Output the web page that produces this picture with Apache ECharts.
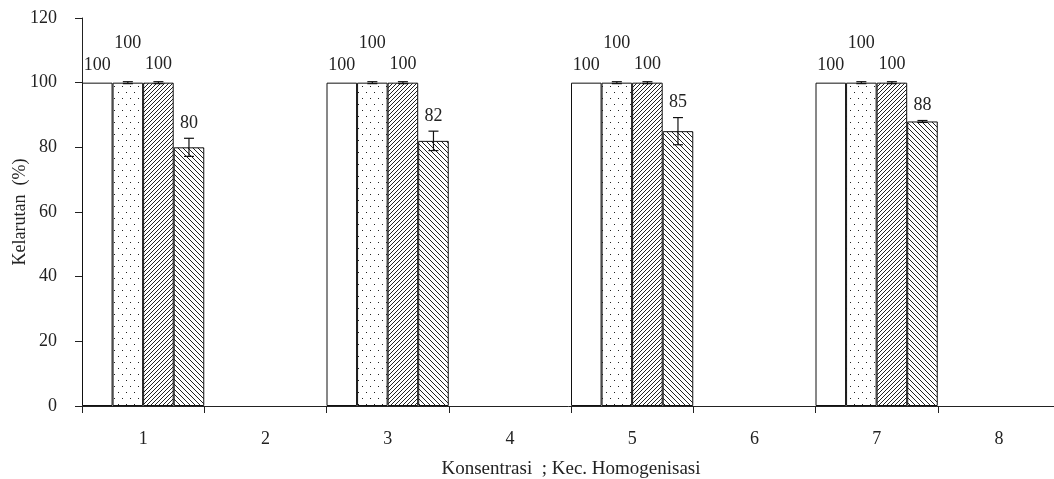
<!DOCTYPE html>
<html>
<head>
<meta charset="utf-8">
<script src="https://cdn.jsdelivr.net/npm/echarts@6/dist/echarts.min.js"></script>
<style>html,body{margin:0;padding:0;background:#fff;overflow:hidden}#c{width:1054px;height:479px}</style>
</head>
<body>
<div id="c"></div>
<script>
// ---- data ----
const categories = ['1', '2', '3', '4', '5', '6', '7', '8'];
const seriesA = [100, null, 100, null, 100, null, 100, null];
const seriesB = [100, null, 100, null, 100, null, 100, null];
const seriesC = [100, null, 100, null, 100, null, 100, null];
const seriesD = [80, null, 82, null, 85, null, 88, null];
const errorA = [0, null, 0, null, 0, null, 0, null];
const errorB = [0.3, null, 0.3, null, 0.3, null, 0.3, null];
const errorC = [0.3, null, 0.3, null, 0.3, null, 0.3, null];
const errorD = [2.8, null, 3, null, 4.2, null, 0.3, null];
const yTicks = [0, 20, 40, 60, 80, 100, 120];

// ---- patterns ----
function makeTile(w, h, draw) {
  const c = document.createElement('canvas');
  c.width = w; c.height = h;
  const ctx = c.getContext('2d');
  ctx.fillStyle = '#fff';
  ctx.fillRect(0, 0, w, h);
  draw(ctx, w, h);
  return c;
}
const dotTile = makeTile(8, 12, function (ctx) {
  ctx.fillStyle = '#222';
  ctx.fillRect(2, 2, 1, 1);
  ctx.fillRect(6, 8, 1, 1);
});
function hatch(step, dir) {
  return makeTile(step * 4, step * 4, function (ctx, w, h) {
    ctx.strokeStyle = '#222';
    ctx.lineWidth = 1;
    for (let k = -2 * w; k <= 2 * w; k += step) {
      ctx.beginPath();
      if (dir > 0) { ctx.moveTo(k, h); ctx.lineTo(k + h, 0); }
      else { ctx.moveTo(k, 0); ctx.lineTo(k + h, h); }
      ctx.stroke();
    }
  });
}
const fwdTile = hatch(4, 1);
const backTile = hatch(5, -1);

const fills = ['#ffffff', { image: dotTile, repeat: 'repeat' }, { image: fwdTile, repeat: 'repeat' }, { image: backTile, repeat: 'repeat' }];
const values = [seriesA, seriesB, seriesC, seriesD];
const errors = [errorA, errorB, errorC, errorD];
const labelGaps = [17, 38, 17, 15];
const FAMILY = '"Liberation Serif", "Times New Roman", serif';
const FONT = '18px ' + FAMILY;

const series = [];
values.forEach(function (vals, i) {
  series.push({
    type: 'bar',
    data: vals,
    barGap: '0%',
    barCategoryGap: '0%',
    itemStyle: { color: fills[i], borderColor: '#111', borderWidth: 1 },
    silent: true,
    z: 2
  });
});
values.forEach(function (vals, i) {
  const data = [];
  vals.forEach(function (v, j) { if (v != null) data.push([j, v, errors[i][j]]); });
  series.push({
    type: 'custom',
    data: data,
    z: 5,
    silent: true,
    renderItem: function (params, api) {
      const x = api.value(0), v = api.value(1), e = api.value(2);
      const catW = api.size([1, 0])[0];
      const bw = catW / 4;
      const cx = api.coord([x, 0])[0] + (i - 1.5) * bw;
      const yTop = api.coord([x, v + e])[1];
      const yBot = api.coord([x, v - e])[1];
      const children = [];
      if (e > 0) {
        const st = { stroke: '#111', lineWidth: 1.2 };
        children.push({ type: 'line', shape: { x1: cx, y1: yTop, x2: cx, y2: yBot }, style: st });
        children.push({ type: 'line', shape: { x1: cx - 5, y1: yTop, x2: cx + 5, y2: yTop }, style: st });
        children.push({ type: 'line', shape: { x1: cx - 5, y1: yBot, x2: cx + 5, y2: yBot }, style: st });
      }
      children.push({
        type: 'text',
        x: cx, y: yTop - labelGaps[i],
        style: {
          text: String(v), font: FONT, fill: '#222',
          align: 'center', verticalAlign: 'middle',
          textAlign: 'center', textVerticalAlign: 'middle'
        }
      });
      return { type: 'group', children: children };
    }
  });
});

const chart = echarts.init(document.getElementById('c'), null, { renderer: 'canvas' });
chart.setOption({
  animation: false,
  backgroundColor: '#fff',
  grid: { left: 82, right: -6, top: 18, bottom: 73, containLabel: false, outerBoundsMode: 'none' },
  xAxis: {
    type: 'category',
    data: categories,
    name: 'Konsentrasi  ; Kec. Homogenisasi',
    nameLocation: 'middle',
    nameGap: 54,
    nameMoveOverlap: false,
    nameTextStyle: { fontFamily: FAMILY, fontSize: 19, color: '#222' },
    axisLine: { lineStyle: { color: '#222', width: 1 } },
    axisTick: { show: true, length: 7, lineStyle: { color: '#222' } },
    axisLabel: { fontFamily: FAMILY, fontSize: 18, color: '#222', margin: 24 },
    splitLine: { show: false }
  },
  yAxis: {
    type: 'value',
    min: yTicks[0],
    max: yTicks[yTicks.length - 1],
    interval: yTicks[1] - yTicks[0],
    name: 'Kelarutan  (%)',
    nameLocation: 'middle',
    nameGap: 53,
    nameMoveOverlap: false,
    nameTextStyle: { fontFamily: FAMILY, fontSize: 18, color: '#222' },
    axisLine: { show: true, lineStyle: { color: '#222', width: 1 } },
    axisTick: { show: true, length: 7, lineStyle: { color: '#222' } },
    axisLabel: { fontFamily: FAMILY, fontSize: 18, color: '#222', margin: 25 },
    splitLine: { show: false }
  },
  series: series
});
</script>
</body>
</html>
